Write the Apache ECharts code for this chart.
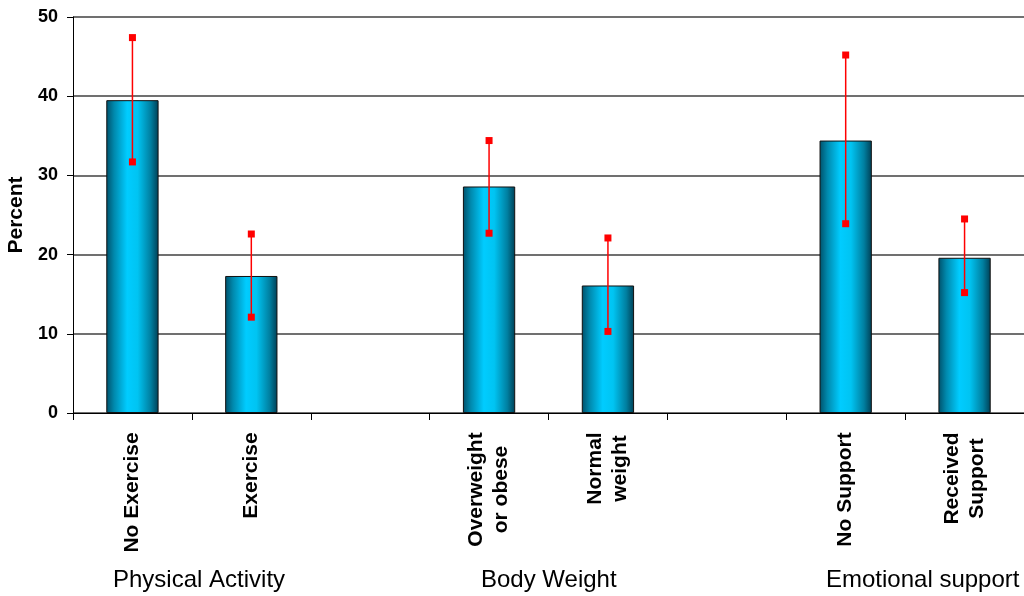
<!DOCTYPE html>
<html>
<head>
<meta charset="utf-8">
<script src="https://cdn.jsdelivr.net/npm/echarts@6/dist/echarts.min.js"></script>
<style>
html,body{margin:0;padding:0;background:#fff;}
#chart{width:1024px;height:596px;}
</style>
</head>
<body>
<div id="chart"></div>
<script>
const categories = ['No Exercise', 'Exercise', '', 'Overweight\nor obese', 'Normal\nweight', '', 'No Support', 'Received\nSupport'];
const percentValues = [39.5, 17.3, null, 28.6, 16.1, null, 34.4, 19.6];
const upperCI = [47.4, 22.6, null, 34.4, 22.1, null, 45.2, 24.5];
const lowerCI = [31.7, 12.1, null, 22.7, 10.3, null, 23.9, 15.2];
const yTicks = [0, 10, 20, 30, 40, 50];
const groupLabels = ['Physical Activity', 'Body Weight', 'Emotional support'];

const FONT = '"Liberation Sans", Arial, sans-serif';
const LABEL_FONT = 'bold 21px ' + FONT;
const chart = echarts.init(document.getElementById('chart'));

const errData = categories.map((c, i) => (upperCI[i] == null ? null : [i, lowerCI[i], upperCI[i]])).filter(d => d);

// rich styles so that multi-line category labels have their lines centred on each other
const ctx = document.createElement('canvas').getContext('2d');
ctx.font = LABEL_FONT;
const rich = {};
categories.forEach((c, i) => {
  const w = Math.max(1, ...c.split('\n').map(s => Math.ceil(ctx.measureText(s).width)));
  rich['c' + i] = { width: w, align: 'center', fontFamily: FONT, fontWeight: 'bold', fontSize: 21, color: '#000', lineHeight: 25 };
});

chart.setOption({
  animation: false,
  grid: { left: 73, right: 0, top: 17, bottom: 183, containLabel: false, outerBoundsMode: 'none' },
  xAxis: {
    type: 'category',
    data: categories,
    axisLine: { lineStyle: { color: '#000', width: 1 } },
    axisTick: { show: true, alignWithLabel: false, length: 7, lineStyle: { color: '#000' } },
    axisLabel: {
      rotate: 90, interval: 0, margin: 19,
      fontFamily: FONT, fontWeight: 'bold', fontSize: 21, color: '#000', lineHeight: 25,
      formatter: function (value, index) {
        if (!value) return '';
        return value.split('\n').map(s => '{c' + index + '|' + s + '}').join('\n');
      },
      rich: rich
    },
    splitLine: { show: false }
  },
  yAxis: {
    type: 'value',
    min: yTicks[0], max: yTicks[yTicks.length - 1], interval: 10,
    name: 'Percent', nameLocation: 'middle', nameGap: 45, nameRotate: 90,
    nameTextStyle: { fontFamily: FONT, fontWeight: 'bold', fontSize: 21, color: '#000' },
    axisLine: { show: true, lineStyle: { color: '#000', width: 1 } },
    axisTick: { show: true, length: 6, lineStyle: { color: '#000' } },
    axisLabel: { fontFamily: FONT, fontWeight: 'bold', fontSize: 18, color: '#000', margin: 15 },
    splitLine: { show: true, lineStyle: { color: '#404040', width: 1.5 } }
  },
  series: [
    {
      type: 'bar',
      data: percentValues,
      barWidth: '44%',
      itemStyle: {
        borderColor: '#111',
        borderWidth: 1,
        color: new echarts.graphic.LinearGradient(0, 0, 1, 0, [
          { offset: 0, color: '#00506a' },
          { offset: 0.15, color: '#0089ad' },
          { offset: 0.4, color: '#00ccff' },
          { offset: 0.6, color: '#00c4f2' },
          { offset: 0.85, color: '#007fa0' },
          { offset: 1, color: '#003f55' }
        ])
      },
      z: 2
    },
    {
      type: 'custom',
      data: errData,
      z: 5,
      renderItem: function (params, api) {
        const x = api.value(0);
        const lo = api.coord([x, api.value(1)]);
        const hi = api.coord([x, api.value(2)]);
        const s = 7;
        return {
          type: 'group',
          children: [
            { type: 'line', shape: { x1: hi[0], y1: hi[1], x2: lo[0], y2: lo[1] }, style: { stroke: '#ff0000', lineWidth: 1.5 } },
            { type: 'rect', shape: { x: hi[0] - s / 2, y: hi[1] - s / 2, width: s, height: s }, style: { fill: '#ff0000' } },
            { type: 'rect', shape: { x: lo[0] - s / 2, y: lo[1] - s / 2, width: s, height: s }, style: { fill: '#ff0000' } }
          ]
        };
      }
    }
  ],
  graphic: [
    { type: 'text', left: 113, top: 568, style: { text: groupLabels[0], font: '24px ' + FONT, fill: '#000' } },
    { type: 'text', left: 481, top: 568, style: { text: groupLabels[1], font: '24px ' + FONT, fill: '#000' } },
    { type: 'text', left: 826, top: 568, style: { text: groupLabels[2], font: '24px ' + FONT, fill: '#000' } }
  ]
});
</script>
</body>
</html>
